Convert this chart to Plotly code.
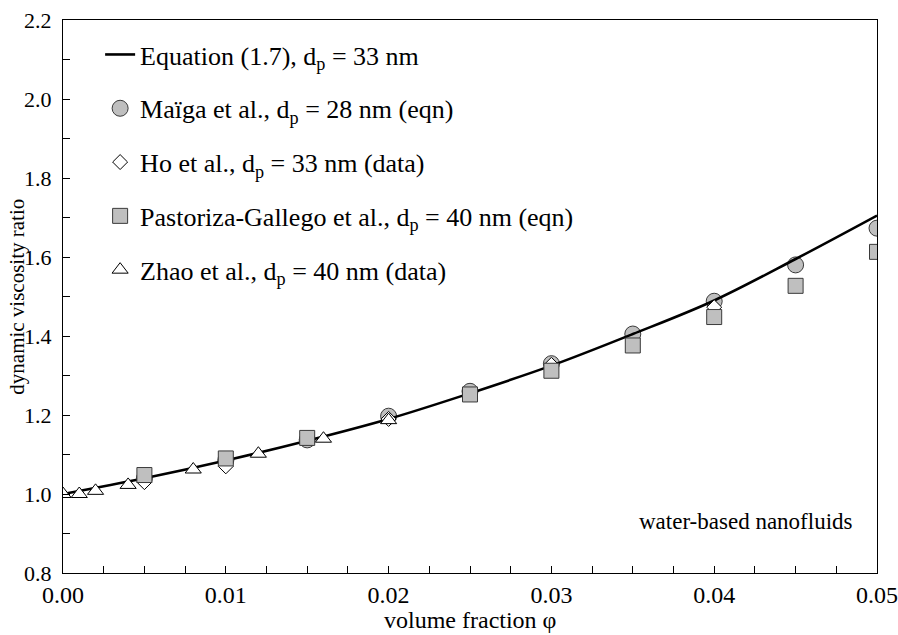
import plotly.graph_objects as go

# Equation (1.7), d_p = 33 nm
phi_eq = [0.0, 0.005, 0.01, 0.015, 0.02, 0.025, 0.03, 0.035, 0.04, 0.045, 0.05]
mu_eq = [1.0, 1.04, 1.085, 1.135, 1.19, 1.255, 1.325, 1.405, 1.49, 1.595, 1.705]

# Maïga et al., d_p = 28 nm (eqn)
phi_maiga = [0.005, 0.01, 0.015, 0.02, 0.025, 0.03, 0.035, 0.04, 0.045, 0.05]
mu_maiga = [1.04, 1.085, 1.137, 1.197, 1.26, 1.33, 1.405, 1.488, 1.58, 1.673]

# Ho et al., d_p = 33 nm (data)
phi_ho = [0.005, 0.01, 0.02, 0.03, 0.04]
mu_ho = [1.03, 1.07, 1.19, 1.327, 1.473]

# Pastoriza-Gallego et al., d_p = 40 nm (eqn)
phi_pg = [0.005, 0.01, 0.015, 0.025, 0.03, 0.035, 0.04, 0.045, 0.05]
mu_pg = [1.048, 1.09, 1.142, 1.252, 1.312, 1.376, 1.448, 1.527, 1.613]

# Zhao et al., d_p = 40 nm (data)
phi_zhao = [0.0, 0.001, 0.002, 0.004, 0.008, 0.012, 0.016, 0.02]
mu_zhao = [1.0, 1.0, 1.008, 1.023, 1.062, 1.102, 1.14, 1.187]

FONT = "Liberation Serif"
GRAY = "#bfbfbf"
EDGE = "#3a3a3a"

fig = go.Figure()

fig.add_trace(go.Scatter(
    x=phi_maiga, y=mu_maiga, mode="markers",
    name="Maïga et al., d<sub>p</sub> = 28 nm (eqn)",
    legendgroup="b", legendrank=2,
    marker=dict(symbol="circle", size=16, color=GRAY, line=dict(color=EDGE, width=1)),
))
fig.add_trace(go.Scatter(
    x=phi_eq, y=mu_eq, mode="lines", line_shape="spline",
    name="Equation (1.7), d<sub>p</sub> = 33 nm",
    legendgroup="a", legendrank=1,
    line=dict(color="black", width=2.6),
))
fig.add_trace(go.Scatter(
    x=phi_ho, y=mu_ho, mode="markers",
    name="Ho et al., d<sub>p</sub> = 33 nm (data)",
    legendgroup="c", legendrank=3,
    marker=dict(symbol="diamond", size=11.5, color="white", line=dict(color="black", width=1)),
))
fig.add_trace(go.Scatter(
    x=phi_pg, y=mu_pg, mode="markers",
    name="Pastoriza-Gallego et al., d<sub>p</sub> = 40 nm (eqn)",
    legendgroup="d", legendrank=4,
    marker=dict(symbol="square", size=15, color=GRAY, line=dict(color=EDGE, width=1)),
))
fig.add_trace(go.Scatter(
    x=phi_zhao, y=mu_zhao, mode="markers",
    name="Zhao et al., d<sub>p</sub> = 40 nm (data)",
    legendgroup="e", legendrank=5,
    marker=dict(symbol="triangle-up", size=14, color="white", line=dict(color="black", width=1)),
))

fig.add_annotation(
    text="water-based nanofluids", xref="paper", yref="paper",
    x=0.973, y=0.094, xanchor="right", yanchor="middle", showarrow=False,
    font=dict(family=FONT, size=23, color="black"),
)
# axis titles
fig.add_annotation(
    text="volume fraction φ", xref="paper", yref="paper",
    x=0.5, y=-0.085, xanchor="center", yanchor="middle", showarrow=False,
    font=dict(family=FONT, size=24, color="black"),
)
fig.add_annotation(
    text="dynamic viscosity ratio", xref="paper", yref="paper",
    x=-0.0575, y=0.5, xanchor="center", yanchor="middle", textangle=-90,
    showarrow=False, font=dict(family=FONT, size=21, color="black"),
)

axis_common = dict(
    showline=True, linecolor="black", linewidth=1.3, mirror=True,
    ticks="inside", ticklen=7, tickwidth=1.2, tickcolor="black",
    showgrid=False, zeroline=False, automargin=False,
)

fig.update_xaxes(
    range=[0, 0.05], tick0=0, dtick=0.01, tickformat=".2f",
    minor=dict(ticks="inside", dtick=0.0025, ticklen=7, tickwidth=1.2, tickcolor="black"),
    ticklabelstandoff=0,
    tickfont=dict(family=FONT, size=24, color="black"),
    **axis_common,
)
fig.update_yaxes(
    range=[0.8, 2.2], tick0=0.8, dtick=0.2, tickformat=".1f",
    minor=dict(ticks="inside", dtick=0.1, ticklen=7, tickwidth=1.2, tickcolor="black"),
    ticklabelstandoff=6,
    tickfont=dict(family=FONT, size=22, color="black"),
    **axis_common,
)

fig.update_layout(
    width=898, height=635,
    margin=dict(l=63, r=21, t=20, b=62),
    paper_bgcolor="white", plot_bgcolor="white",
    showlegend=True,
    legend=dict(
        x=0.0456, y=0.980, xanchor="left", yanchor="top",
        bgcolor="rgba(0,0,0,0)", borderwidth=0,
        traceorder="grouped", tracegroupgap=17,
        font=dict(family=FONT, size=26, color="black"),
        itemsizing="trace",
    ),
)

fig.write_html("out.html")
